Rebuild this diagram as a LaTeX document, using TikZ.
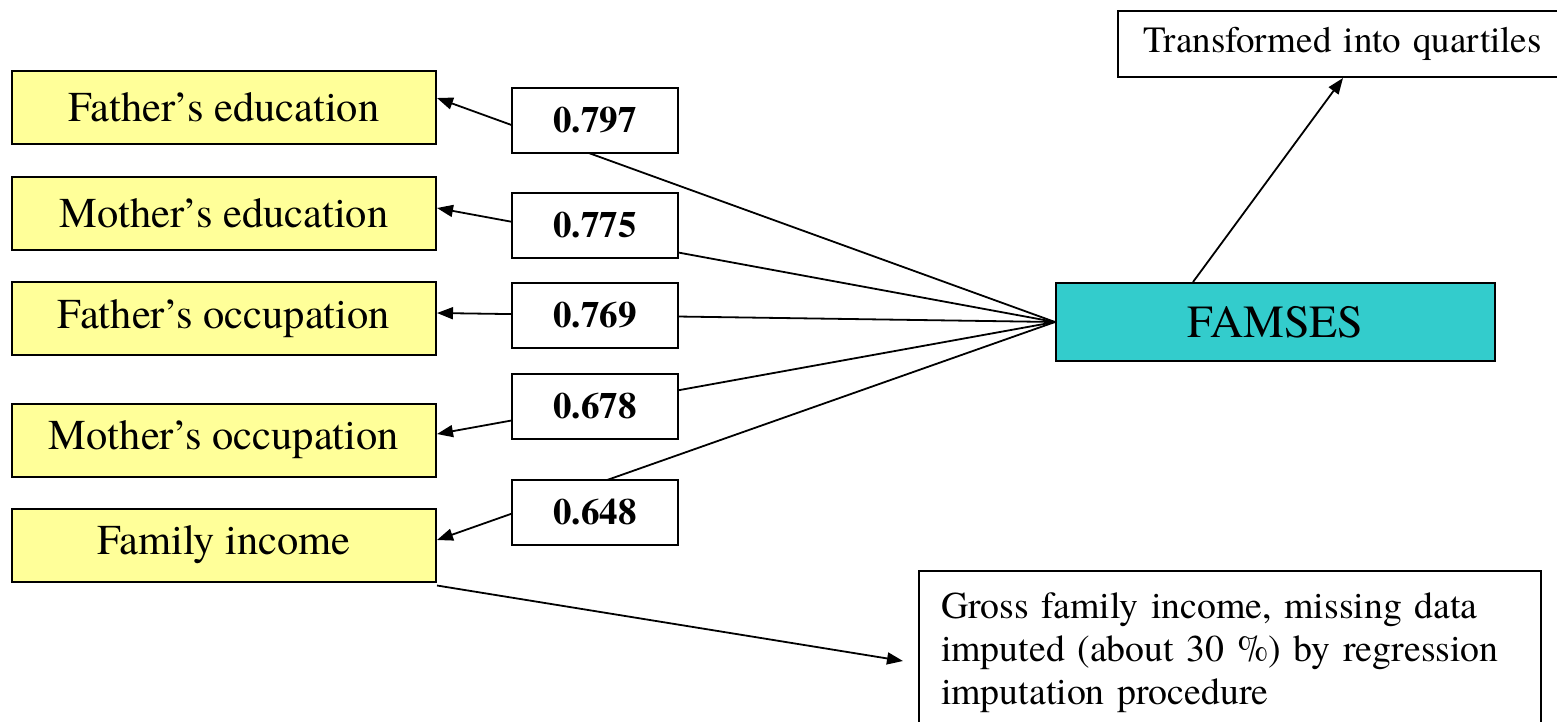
\documentclass[tikz,border=0pt]{standalone}
\usepackage{fontspec}
\setmainfont{texgyretermes}[Extension=.otf,UprightFont=*-regular,BoldFont=*-bold,ItalicFont=*-italic,BoldItalicFont=*-bolditalic]
\usetikzlibrary{arrows.meta}
\definecolor{ybox}{HTML}{FFFF99}
\definecolor{cbox}{HTML}{33CCCC}
\tikzset{
  var/.style={draw=black, line width=2pt, fill=ybox, minimum width=424pt, minimum height=73pt, inner sep=0pt, font=\rmfamily\fontsize{42.5}{50}\selectfont},
  wt/.style={draw=black, line width=2pt, fill=white, minimum width=166pt, minimum height=65pt, inner sep=0pt, font=\rmfamily\fontsize{37}{44}\selectfont\bfseries},
  conn/.style={line width=1.8pt, -{Triangle[length=16pt,width=12pt]}},
}
\begin{document}
\begin{tikzpicture}[x=1pt,y=-1pt]
\clip (0,0) rectangle (1557,721);
\fill[white] (0,0) rectangle (1557,721);
% variable boxes
\node[var] (fe) at (224,107.5) {Father’s education};
\node[var] (me) at (224,213.5) {Mother’s education};
\node[var] (fo) at (224,318.5) {Father’s occupation};
\node[var] (mo) at (224,440) {Mother’s occupation};
\node[var] (fi) at (224,545) {Family income};
% FAMSES
\node[draw=black, line width=2pt, fill=cbox, minimum width=439pt, minimum height=78pt, inner sep=0pt, font=\rmfamily\fontsize{46}{54}\selectfont] (fam) at (1275.5,322) {FAMSES};
% notes
\node[draw=black, line width=2pt, fill=white, anchor=west, minimum width=470pt, minimum height=66pt, inner xsep=23pt, inner ysep=0pt, text width=420pt, align=left, font=\rmfamily\fontsize{37}{44}\selectfont] (tq) at (1117,44) {Transformed into quartiles};
\node[draw=black, line width=2pt, fill=white, anchor=north west, inner xsep=22pt, inner ysep=17pt, text width=578pt, align=left, font=\rmfamily\fontsize{37.8}{43}\selectfont] (gf) at (918,570) {\strut Gross family income, missing data\\ imputed (about 30 \%) by regression\\ imputation procedure\\ \strut};
\coordinate (gtip) at (903,661);
% connectors
\draw[conn] (fam.west) -- ([yshift=9.5pt]fe.east);
\draw[conn] (fam.west) -- ([yshift=5.5pt]me.east);
\draw[conn] (fam.west) -- ([yshift=5.5pt]fo.east);
\draw[conn] (fam.west) -- ([yshift=6pt]mo.east);
\draw[conn] (fam.west) -- ([yshift=5pt]fi.east);
\draw[conn] ([xshift=-82.5pt]fam.north) -- ([xshift=-10pt]tq.south);
\draw[conn] ([yshift=-3pt]fi.south east) -- (gtip);
% loading labels
\node[wt] (l1) at (595,120) {0.797};
\node[wt] (l2) at (595,225.5) {0.775};
\node[wt] (l3) at (595,315.5) {0.769};
\node[wt] (l4) at (595,406) {0.678};
\node[wt] (l5) at (595,512.5) {0.648};
\end{tikzpicture}
\end{document}
